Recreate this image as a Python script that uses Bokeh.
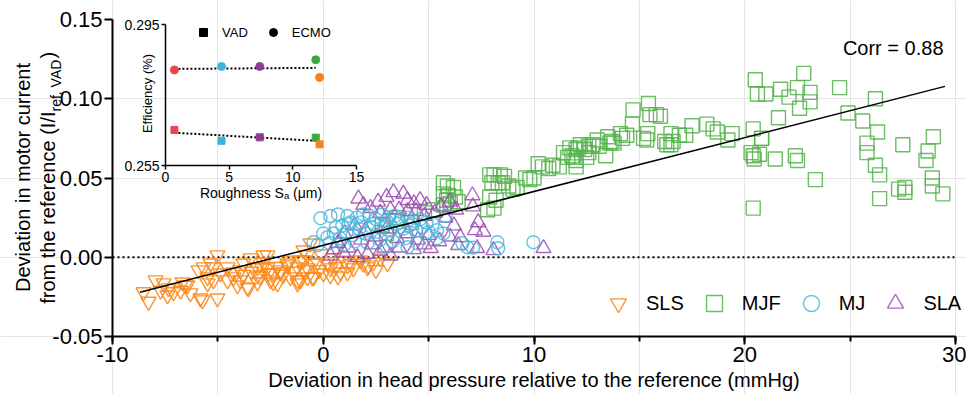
import math
from bokeh.plotting import figure
from bokeh.models import (Range1d, LinearAxis, FixedTicker, SingleIntervalTicker,
                          PrintfTickFormatter, Label, Legend, LegendItem, ColumnDataSource)
from bokeh.embed import file_html
from bokeh.resources import INLINE

# ---------------- data ----------------
sls_x = [-8.53, -8.29, -7.96, -7.72, -7.58, -7.39, -7.34, -7.11, -6.77, -6.68, -6.54, -6.44, -6.30,
         -5.92, -5.83, -5.73, -5.68, -5.49, -5.49, -5.35, -5.21, -5.21, -5.02, -5.02, -4.88, -4.54,
         -4.54, -4.26, -4.26, -4.07, -3.93, -3.93, -3.79, -3.60, -3.55, -3.45, -3.12, -3.12, -3.12,
         -2.84, -2.84, -2.65, -2.65, -2.50, -2.36, -2.36, -2.17, -2.03, -2.03, -1.70, -1.70, -1.56,
         -1.22, -1.22, -1.22, -1.08, -1.08, -0.94, -0.94, -0.75, -0.75, -0.75, -0.61, -0.51, -0.46,
         -0.28, 0.01, 0.34, 0.34, 0.48, 0.82, 1.15, 1.15, 1.43, 1.76, 2.10, 2.14, 2.38, 2.71, 3.05,
         -3.8, -3.4, -3.0, -2.6, -2.2, -1.9, -1.4, -0.9, -0.5, -0.2, 0.2, 0.6, 1.0, 1.3, -1.6, -2.9,
         -0.1, 0.7, 1.9, 2.5]
sls_y = [-0.022, -0.028, -0.0145, -0.021, -0.0164, -0.024, -0.0195, -0.022, -0.021, -0.0158, -0.0177,
         -0.0177, -0.0227, -0.0082, -0.0259, -0.0271, -0.0063, -0.0164, -0.0126, -0.0038, -0.0145,
         -0.0063, 0.0013, -0.0259, -0.0101, -0.0145, -0.0063, -0.0126, -0.0095, -0.0177, -0.0082,
         -0.0145, -0.0038, -0.0189, -0.0195, -0.0006, -0.0063, -0.0158, -0.0113, -0.0032, 0.0013,
         0.0013, -0.0063, -0.0145, -0.0101, -0.0158, -0.0164, -0.0082, -0.0095, -0.0038, -0.0050,
         -0.0126, -0.0063, -0.0145, -0.0164, -0.0019, -0.0145, -0.0019, 0.0044, -0.0126, -0.0069,
         0.0013, 0.0088, -0.0126, -0.0126, -0.0032, -0.0101, -0.0069, -0.0113, -0.0006, -0.0095,
         -0.0050, -0.0095, -0.0069, -0.0019, -0.0063, -0.0050, -0.0032, -0.0006, -0.0038,
         -0.011, -0.009, -0.012, -0.010, -0.006, -0.011, -0.009, -0.008, -0.004, -0.008, -0.003,
         -0.006, -0.002, -0.004, -0.002, -0.007, 0.002, -0.012, -0.004, -0.008]

mjf_x = [5.70, 5.89, 6.18, 5.70, 5.94, 6.27, 6.03, 5.70, 5.85, 6.40,
         7.9, 8.2, 8.1, 7.8, 7.9, 8.1, 8.4, 8.6, 8.3, 8.0, 8.5, 8.8, 9.0, 9.2,
         9.6, 9.8, 10.0, 10.2, 10.4, 10.7, 10.9, 11.2, 11.4, 11.6, 11.8, 12.0, 11.7, 11.9, 12.0,
         12.2, 12.1, 12.4, 12.0, 12.6, 13.4, 12.5, 13.0, 12.8, 13.1, 12.6, 13.5, 13.7, 13.6, 13.8,
         14.1, 14.2, 14.4, 14.7, 14.67, 15.43, 15.5, 15.8, 16.0, 15.4, 15.35, 15.2,
         16.3, 16.5, 16.2, 16.6, 16.5, 16.9, 17.2, 17.5, 18.2, 18.5, 18.7, 19.4, 19.2,
         20.4, 20.5, 20.6, 20.4, 20.45, 20.3, 20.7, 20.8, 20.4,
         21.0, 21.7, 22.8, 22.5, 22.1, 23.1, 23.1, 22.6, 24.5, 21.6, 20.8, 21.45, 22.4, 22.5, 23.35,
         24.9, 26.2, 25.6, 26.3, 25.8, 25.8, 26.2, 26.4, 26.4, 27.3, 27.6, 27.6, 27.5,
         28.95, 28.7, 28.6, 28.9, 28.9, 29.4,
         2.8, 3.5, 4.2, 4.8, 5.2, 3.0]
mjf_y = [0.047, 0.045, 0.044, 0.040, 0.039, 0.038, 0.034, 0.033, 0.036, 0.035,
         0.038, 0.036, 0.031, 0.030, 0.052, 0.052, 0.052, 0.051, 0.047, 0.047, 0.047, 0.045, 0.043, 0.044,
         0.050, 0.049, 0.050, 0.059, 0.057, 0.056, 0.058, 0.057, 0.066, 0.063, 0.064, 0.061, 0.069, 0.063, 0.057,
         0.071, 0.069, 0.068, 0.068, 0.066, 0.064, 0.063, 0.074, 0.071, 0.070, 0.070, 0.076, 0.073, 0.072, 0.072,
         0.078, 0.075, 0.077, 0.093, 0.084, 0.097, 0.090, 0.090, 0.089, 0.078, 0.074, 0.075,
         0.071, 0.071, 0.073, 0.073, 0.078, 0.077, 0.077, 0.083, 0.084, 0.081, 0.079, 0.078, 0.074,
         0.081, 0.112, 0.103, 0.064, 0.062, 0.066, 0.065, 0.075, 0.031,
         0.103, 0.106, 0.116, 0.107, 0.101, 0.104, 0.098, 0.094, 0.107, 0.088, 0.075, 0.062, 0.064, 0.061, 0.049,
         0.091, 0.100, 0.086, 0.079, 0.072, 0.066, 0.058, 0.052, 0.037, 0.043, 0.044, 0.041, 0.071,
         0.076, 0.067, 0.061, 0.050, 0.045, 0.040,
         0.020, 0.025, 0.022, 0.028, 0.030, 0.015]

mj_x = [-0.46, -0.27, -0.13, 0.34, 0.7, 1.15, 0.2, 0.5,
        0.9, 1.3, 1.6, 1.9, 2.2, 2.5, 2.8, 3.1, 3.4, 3.7, 4.0, 4.3, 4.6, 4.9, 5.2, 5.8,
        0.8, 1.1, 1.4, 1.7, 2.0, 2.3, 2.6, 2.9, 3.2, 3.5, 3.8, 4.1, 4.4, 4.7, 5.0, 5.4, 5.7,
        1.0, 1.5, 2.1, 2.7, 3.3, 3.9, 4.47, 4.0, 3.0,
        1.2, 1.8, 2.4, 3.0, 3.6, 4.2, 0.6, 0.0, 0.3,
        6.6, 6.84, 7.1, 8.26, 8.3, 9.97, 5.4]
mj_y = [0.0095, 0.0076, 0.0246, 0.026, 0.027, 0.026, 0.0126, 0.015,
        0.020, 0.022, 0.025, 0.027, 0.026, 0.024, 0.027, 0.025, 0.026, 0.024, 0.025, 0.023, 0.024, 0.022, 0.021, 0.026,
        0.012, 0.016, 0.014, 0.018, 0.015, 0.019, 0.016, 0.020, 0.017, 0.021, 0.018, 0.020, 0.017, 0.019, 0.016, 0.017, 0.015,
        0.008, 0.010, 0.009, 0.011, 0.010, 0.012, 0.0088, 0.0063, 0.007,
        0.021, 0.022, 0.021, 0.023, 0.022, 0.021, 0.019, 0.015, 0.009,
        0.0088, 0.0063, 0.006, 0.0095, 0.0057, 0.0095, 0.012]

sla_x = [1.67, 3.33, 7.08, 7.1, 7.35, 7.2, 7.6, 6.5, 6.4, 5.1, 7.3, 8.07, 10.45,
         4.0, 4.3, 4.6, 4.9, 3.6, 4.0, 2.24, 2.7, 3.19,
         0.34, 0.96, 1.62, 2.1, 2.71, 3.19,
         1.5, 2.0, 2.5, 3.0, 3.5, 4.0, 4.5, 5.0, 5.5, 6.0, 6.2, 5.8, 5.3, 4.8, 4.4,
         1.0, 1.8, 2.3, 2.9, 3.6, 4.3, 4.8, 1.2, 0.7, 0.5,
         5.6, 6.3, 6.0, 2.6, 3.0, 1.9, 3.8]
sla_y = [0.037, 0.041, 0.039, 0.032, 0.022, 0.017, 0.016, 0.0126, 0.0076, 0.0057, 0.0057, 0.0044, 0.0057,
         0.036, 0.034, 0.036, 0.033, 0.030, 0.029, 0.031, 0.028, 0.030,
         0.001, 0.003, 0.000, 0.002, 0.004, 0.001,
         0.020, 0.017, 0.013, 0.018, 0.012, 0.015, 0.011, 0.014, 0.010, 0.013, 0.020, 0.025, 0.028, 0.026, 0.029,
         0.015, 0.011, 0.008, 0.006, 0.006, 0.005, 0.008, 0.006, 0.009, 0.005,
         0.032, 0.030, 0.035, 0.035, 0.038, 0.033, 0.040]

fit_slope = 0.0034
fit_intercept = 0.0075
fit_x_range = [-8.7, 29.5]
corr_text = "Corr = 0.88"

x_bounds = (-10, 30)
y_bounds = (-0.05, 0.15)
y_ticks = [-0.05, 0.0, 0.05, 0.10, 0.15]
ref_level = 0.0

inset_sa = [0.7, 4.4, 7.4, 11.8, 12.1]
inset_colors = ["#e8474f", "#3db3dc", "#8f3c98", "#3aa83a", "#f7801e"]
vad_eff = [0.2651, 0.2620, 0.2630, 0.2629, 0.2610]
ecmo_eff = [0.2821, 0.2831, 0.2831, 0.2850, 0.2800]
vad_fit_x = [0.7, 11.8]
vad_fit_y = [0.2643, 0.2620]
ecmo_fit_x = [0.7, 11.8]
ecmo_fit_y = [0.2824, 0.2827]
inset_x_bounds = (0, 15)
inset_y_bounds = (0.255, 0.295)

# ---------------- layout constants (page pixels) ----------------
FONT = "Liberation Sans"
W, H = 966, 394
PX_X0, PX_X1 = 112, 955        # main x axis: -10 .. 30
PX_Y1, PX_Y0 = 19, 336         # main y axis: 0.15 .. -0.05
IX0, IX1 = 165, 356            # inset x axis: 0 .. 15
IY1, IY0 = 24, 165             # inset y axis: 0.295 .. 0.255

C_SLS, C_MJF, C_MJ, C_SLA = "#fb8a1c", "#52b14a", "#4ab7da", "#9c4cb4"

kx = (PX_X1 - PX_X0) / (x_bounds[1] - x_bounds[0])
x_start = x_bounds[0] - PX_X0 / kx
ky = (PX_Y0 - PX_Y1) / (y_bounds[1] - y_bounds[0])
y_end = y_bounds[1] + PX_Y1 / ky

p = figure(width=W, height=H, x_range=Range1d(x_start, x_start + W / kx),
           y_range=Range1d(y_end - H / ky, y_end),
           output_backend="svg", toolbar_location=None,
           x_axis_location=None, y_axis_location=None,
           min_border=0, min_border_left=0, min_border_right=0, min_border_top=0, min_border_bottom=0)
p.outline_line_color = None
p.background_fill_color = "white"
p.border_fill_color = "white"

xaxis = LinearAxis(fixed_location=y_bounds[0], bounds=x_bounds,
                   ticker=SingleIntervalTicker(interval=10, num_minor_ticks=2),
                   formatter=PrintfTickFormatter(format="%d"),
                   axis_label="Deviation in head pressure relative to the reference (mmHg)")
yaxis = LinearAxis(fixed_location=x_bounds[0], bounds=y_bounds,
                   ticker=FixedTicker(ticks=y_ticks, minor_ticks=[]),
                   formatter=PrintfTickFormatter(format="%.2f"))
for ax in (xaxis, yaxis):
    ax.axis_line_width = 2
    ax.axis_line_color = "black"
    ax.major_tick_line_width = 2
    ax.major_tick_line_color = "black"
    ax.minor_tick_line_width = 2
    ax.minor_tick_line_color = "black"
    ax.major_tick_out = 8
    ax.major_tick_in = 0
    ax.minor_tick_out = 5
    ax.minor_tick_in = 0
    ax.major_label_text_font = FONT
    ax.major_label_text_font_size = "22px"
    ax.major_label_text_color = "black"
    ax.major_label_standoff = 2
    ax.axis_label_text_font = FONT
    ax.axis_label_text_font_size = "20px"
    ax.axis_label_text_font_style = "normal"
    ax.axis_label_text_color = "black"
    ax.axis_label_standoff = 4
p.add_layout(xaxis, "below")
p.add_layout(yaxis, "left")

# zero dotted reference line across the axis extent
p.line(list(x_bounds), [ref_level, ref_level], line_color="black", line_width=2, line_dash="2 3")

# scatter series
r_mjf = p.scatter(mjf_x, mjf_y, marker="square", size=14, fill_color=None, line_color=C_MJF,
                  line_width=1.4, line_alpha=0.85)
r_sls = p.scatter(sls_x, sls_y, marker="inverted_triangle", size=15, fill_color=None, line_color=C_SLS,
                  line_width=1.4, line_alpha=0.9)
r_sla = p.scatter(sla_x, sla_y, marker="triangle", size=15, fill_color=None, line_color=C_SLA,
                  line_width=1.4, line_alpha=0.85)
r_mj = p.scatter(mj_x, mj_y, marker="circle", size=13, fill_color=None, line_color=C_MJ,
                 line_width=1.4, line_alpha=0.85)

# regression line
fit_y = [fit_slope * x + fit_intercept for x in fit_x_range]
p.line(fit_x_range, fit_y, line_color="black", line_width=1.5)


def slabel(x, y, text, size, align="center", angle=0.0):
    # x, y: page pixels from the top-left corner
    p.add_layout(Label(x=x, y=H - y, x_units="screen", y_units="screen", text=text,
                       angle=angle, text_align=align, text_baseline="middle",
                       text_font=FONT, text_font_size=size, text_color="black"))


slabel(943, 47, corr_text, "20px", "right")

legend = Legend(items=[LegendItem(label="SLS", renderers=[r_sls]),
                       LegendItem(label="MJF", renderers=[r_mjf]),
                       LegendItem(label="MJ", renderers=[r_mj]),
                       LegendItem(label="SLA", renderers=[r_sla])],
                orientation="horizontal", location=(598, H - 323), glyph_width=40, glyph_height=40,
                label_standoff=8, spacing=10, padding=0, margin=0, border_line_color=None,
                background_fill_alpha=0, label_text_font=FONT, label_text_font_size="20px",
                label_text_color="black")
p.add_layout(legend)

# y-axis title (two lines, second with subscript)
V = math.pi / 2
slabel(22, 177, "Deviation in motor current", "20px", "center", V)
slabel(47, 111, "from the reference (I/I", "20px", "right", V)
slabel(55, 111, "ref, VAD", "14px", "left", V)
slabel(47, 58, ")", "20px", "left", V)

# ---------------- inset ----------------
isx = (IX1 - IX0) / (inset_x_bounds[1] - inset_x_bounds[0])
ix_start = inset_x_bounds[0] - IX0 / isx
isy = (IY0 - IY1) / (inset_y_bounds[1] - inset_y_bounds[0])
iy_end = inset_y_bounds[1] + IY1 / isy
p.extra_x_ranges = {"ix": Range1d(ix_start, ix_start + W / isx)}
p.extra_y_ranges = {"iy": Range1d(iy_end - H / isy, iy_end)}

iy_axis = LinearAxis(x_range_name="ix", y_range_name="iy", fixed_location=inset_x_bounds[0],
                     bounds=inset_y_bounds,
                     ticker=FixedTicker(ticks=list(inset_y_bounds), minor_ticks=[]),
                     formatter=PrintfTickFormatter(format="%.3f"))
ix_axis = LinearAxis(x_range_name="ix", y_range_name="iy", fixed_location=inset_y_bounds[0],
                     bounds=inset_x_bounds,
                     ticker=FixedTicker(ticks=[0, 5, 10, 15], minor_ticks=[]),
                     axis_label="Roughness S\u2090 (\u03bcm)")
for ax in (iy_axis, ix_axis):
    ax.axis_line_width = 1.5
    ax.major_tick_line_width = 1.5
    ax.major_tick_out = 4
    ax.major_tick_in = 0
    ax.major_label_text_font = FONT
    ax.major_label_text_font_size = "14px"
    ax.major_label_text_color = "black"
    ax.major_label_standoff = 2
    ax.axis_label_text_font = FONT
    ax.axis_label_text_font_size = "14px"
    ax.axis_label_text_font_style = "normal"
    ax.axis_label_text_color = "black"
    ax.axis_label_standoff = 0
p.add_layout(iy_axis, "left")
p.add_layout(ix_axis, "below")

slabel(147, 93, "Efficiency (%)", "13px", "center", V)

p.line(vad_fit_x, vad_fit_y, x_range_name="ix", y_range_name="iy", line_color="black",
       line_width=2, line_dash="2 2")
p.line(ecmo_fit_x, ecmo_fit_y, x_range_name="ix", y_range_name="iy", line_color="black",
       line_width=2, line_dash="2 2")
src = ColumnDataSource(dict(sa=inset_sa, vad=vad_eff, ecmo=ecmo_eff, c=inset_colors))
# black copies (hidden underneath) used only for the inset legend swatches
lg_vad = p.scatter("sa", "vad", source=src, x_range_name="ix", y_range_name="iy", marker="square",
                   size=1, color="black")
lg_ecmo = p.scatter("sa", "ecmo", source=src, x_range_name="ix", y_range_name="iy", marker="circle",
                    size=1, color="black")
p.scatter("sa", "vad", source=src, x_range_name="ix", y_range_name="iy", marker="square", size=7,
          fill_color="c", line_color="c")
p.scatter("sa", "ecmo", source=src, x_range_name="ix", y_range_name="iy", marker="circle", size=8,
          fill_color="c", line_color="c")

legend2 = Legend(items=[LegendItem(label="VAD", renderers=[lg_vad]),
                        LegendItem(label="ECMO", renderers=[lg_ecmo])],
                 orientation="horizontal", location=(193, H - 42), glyph_width=20, glyph_height=20,
                 label_standoff=9, spacing=15, padding=0, margin=0, border_line_color=None,
                 background_fill_alpha=0, label_text_font=FONT, label_text_font_size="13px",
                 label_text_color="black")
p.add_layout(legend2)

open("out.html", "w").write(file_html(p, INLINE))
